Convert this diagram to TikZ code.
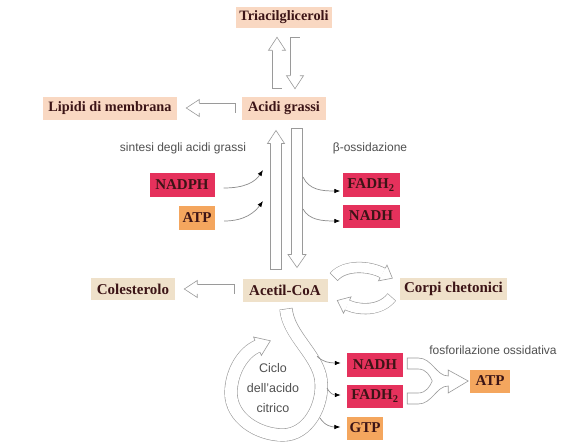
\documentclass[tikz,border=0pt]{standalone}
\usepackage{fontspec}
\setmainfont{Liberation Serif}
\newfontfamily\lblfont{Liberation Sans}
\usetikzlibrary{arrows.meta,decorations.markings,calc}
\definecolor{peach}{HTML}{F9D8C2}
\definecolor{beige}{HTML}{EFE1CA}
\definecolor{crimson}{HTML}{E5315C}
\definecolor{orng}{HTML}{F4A65E}
\definecolor{boxtxt}{HTML}{3C1416}
\definecolor{agray}{HTML}{9A9A9A}
\definecolor{thin}{HTML}{8C8C8C}
\definecolor{lbl}{HTML}{505050}
% #1 shaft width, #2 head half width, #3 head length, #4 path
\newcommand\fatarrow[4]{%
  \pgfmathsetmacro\fw{#1}%
  \pgfmathsetmacro\fo{#1+1.2}%
  \pgfmathsetmacro\fe{(#1+0.6)/2}%
  \draw[line width=\fo pt, agray] #4;
  \draw[line width=\fw pt, white, shorten <=0.6pt] #4;
  \path[postaction={decorate,decoration={markings,mark=at position 0.998 with
    {\filldraw[fill=white,draw=agray,line width=0.6pt] (0,\fe) -- (0,#2) -- (#3,0) -- (0,-#2) -- (0,-\fe);}}}] #4;
}
\tikzset{
  box/.style={font=\fontsize{15}{17}\selectfont\bfseries, text=boxtxt, inner xsep=3pt, inner ysep=0pt, minimum height=23pt},
  smallbox/.style={font=\fontsize{14.3}{16}\selectfont\bfseries},
  pbox/.style={box, fill=peach},
  bbox/.style={box, fill=beige},
  rbox/.style={box, fill=crimson},
  obox/.style={box, fill=orng},
  lbl/.style={font=\lblfont\fontsize{12}{14}\selectfont, text=lbl},
  thinarrow/.style={draw=thin, line width=0.7pt, -{Latex[length=6pt,width=4.5pt,color=black]}},
}
\begin{document}
\begin{tikzpicture}[x=1pt,y=-1pt]
\fill[white] (0,0) rectangle (584,447);
\useasboundingbox (0,0) rectangle (584,447);

% nodes
\node[pbox, smallbox, minimum width=95pt, minimum height=21pt] (tri) at (284,17) {Triacilgliceroli};
\node[pbox, smallbox, minimum width=84pt] (acidi) at (284,108) {Acidi grassi};
\node[pbox, smallbox, minimum width=134pt] (lipidi) at (110,108) {Lipidi di membrana};
\node[bbox, minimum width=85pt] (acetil) at (285,290) {Acetil-CoA};
\node[bbox, minimum width=84pt, minimum height=22pt] (coles) at (133,289) {Colesterolo};
\node[bbox, minimum width=107pt, minimum height=22pt] (corpi) at (453.5,289) {Corpi chetonici};
\node[rbox, minimum width=65pt, minimum height=24pt] (nadph) at (182,185) {NADPH};
\node[obox, minimum width=36pt, minimum height=24pt] (atpL) at (197,218) {ATP};
\node[rbox, minimum width=57pt, minimum height=24pt] (fadhA) at (371,185) {FADH\textsubscript{2}};
\node[rbox, minimum width=57pt] (nadhA) at (371,216) {NADH};
\node[rbox, minimum width=56pt, minimum height=24pt] (nadhB) at (375,365) {NADH};
\node[rbox, minimum width=56pt] (fadhB) at (375,396) {FADH\textsubscript{2}};
\node[obox, minimum width=36pt] (gtp) at (365,428) {GTP};
\node[obox, minimum width=40pt] (atpR) at (490,381) {ATP};

% labels
\node[lbl] (sint) at (183,148) {sintesi degli acidi grassi};
\node[lbl] (beta) at (370,148) {β-ossidazione};
\node[lbl] (fosfo) at (493,350) {fosforilazione ossidativa};
\node[lbl, align=center, font=\lblfont\fontsize{12.5}{20}\selectfont] (ciclo) at (273,388) {Ciclo\\dell’acido\\citrico};

% straight fat arrows
\fatarrow{9}{8.5}{13}{($(acidi.north)+(-7,-7.5)$) -- ($(tri.south)+(-7,22.5)$)}
\fatarrow{9}{8.5}{13}{($(tri.south)+(11,9.5)$) -- ($(acidi.north)+(11,-20.5)$)}
\fatarrow{9}{8.5}{13}{($(acidi.west)+(-6,0)$) -- ($(lipidi.east)+(22,0)$)}
\fatarrow{10}{8.5}{13}{($(acetil.north)+(-9,-8.5)$) -- ($(acidi.south)+(-8,23.5)$)}
\fatarrow{10}{9}{13}{($(acidi.south)+(13,8.5)$) -- ($(acetil.north)+(12,-23.5)$)}
\fatarrow{9}{8.5}{13}{($(acetil.west)+(-7.5,-1)$) -- ($(coles.east)+(22,0)$)}

% curved fat arrows to/from Corpi chetonici
\fatarrow{10}{9}{11}{($(acetil.east)+(6,-13)$) .. controls (345,264) and (370,266) .. ($(corpi.west)+(-17,-16)$)}
\fatarrow{10}{9}{11}{($(corpi.west)+(-8,8)$) .. controls (380,312) and (358,310) .. ($(acetil.east)+(19.5,15)$)}

% citric acid cycle spiral
\coordinate (cyc0) at ($(acetil.south)+(1,7)$);
\fatarrow{12}{10}{14}{(cyc0) .. controls (288,335) and (318,355) .. (321,380) .. controls (324,405) and (308,435) .. (283,435) .. controls (258,435) and (231,418) .. (231,393) .. controls (231,372) and (243,352) .. (258,346)}

% fork to ATP (oxidative phosphorylation)
\begin{scope}[shift={(nadhB.east)}]
\filldraw[fill=white, draw=agray, line width=0.6pt]
  (4,-7) -- (15,-7) .. controls (29,-7) and (33,11) .. (45,11) -- (45,5) -- (65,16) -- (45,28) -- (45,21)
  .. controls (33,21) and (29,39) .. (15,39) -- (4,39) -- (4,28) -- (15,28)
  .. controls (23,28) and (27,21) .. (29,16) .. controls (27,11) and (23,4) .. (15,4) -- (4,4) -- cycle;
\end{scope}

% thin arrows
\draw[thinarrow] ($(nadph.east)+(9,3)$) .. controls (245,188) and (255,182) .. (263,170);
\draw[thinarrow] ($(atpL.east)+(9,3)$) .. controls (245,221) and (255,212) .. (263,201);
\draw[thinarrow] (303,177) .. controls (309,190) and (322,191) .. ($(fadhA.west)+(-2,6)$);
\draw[thinarrow] (303,209) .. controls (309,220) and (322,221) .. ($(nadhA.west)+(-2,5)$);
\draw[thinarrow] (317,356) .. controls (322,362) and (330,363) .. ($(nadhB.west)+(-6,-2)$);
\draw[thinarrow] (327,388) .. controls (330,394) and (334,395) .. ($(fadhB.west)+(-6,-1)$);
\draw[thinarrow] (320,418) .. controls (325,426) and (332,427) .. ($(gtp.west)+(-6,-1)$);
\end{tikzpicture}
\end{document}
